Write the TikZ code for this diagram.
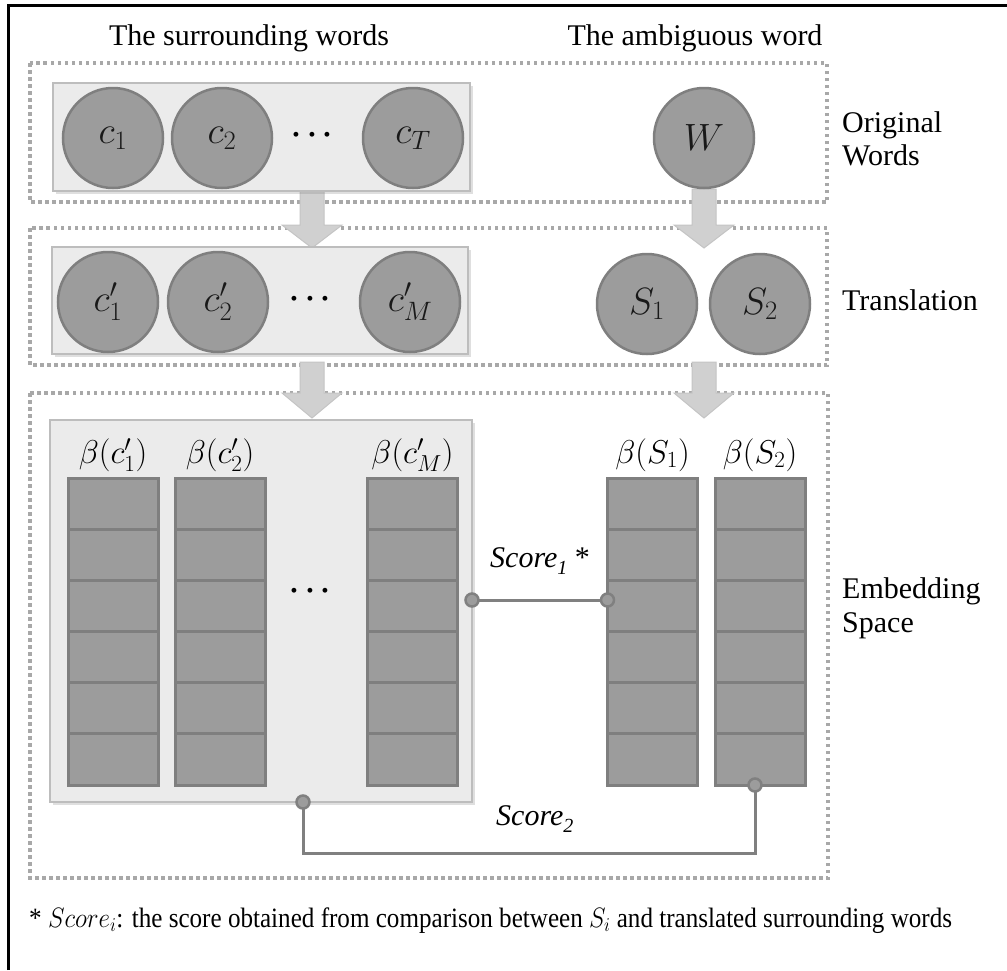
\RequirePackage{fix-cm}
\documentclass[tikz,border=0pt]{standalone}
\usepackage{fontspec}
\usepackage{graphicx}
\setmainfont{Liberation Serif}
\usetikzlibrary{shadows,calc}
\definecolor{circfill}{HTML}{9C9C9C}
\definecolor{circdraw}{HTML}{7F7F7F}
\definecolor{lightfill}{HTML}{EBEBEB}
\definecolor{lightdraw}{HTML}{BDBDBD}
\definecolor{dotcol}{HTML}{A8A8A8}
\definecolor{arrowfill}{HTML}{D0D0D0}
\definecolor{arrowdraw}{HTML}{C4C4C4}
\definecolor{linecol}{HTML}{808080}
\newcommand{\blockarr}[4]{\draw[barrow] (#1-12,#2) -- (#1+12,#2) -- (#1+12,#3) -- (#1+30,#3) -- (#1,#4) -- (#1-30,#3) -- (#1-12,#3) -- cycle;}
\tikzset{
  word/.style={circle, fill=circfill, draw=circdraw, line width=2.5pt, minimum size=100pt, inner sep=0pt, text=black!90, font=\fontsize{38}{42}\selectfont},
  lightbox/.style={rectangle, fill=lightfill, draw=lightdraw, line width=1.5pt, inner sep=0pt, outer sep=0pt,
    drop shadow={opacity=0.25, shadow xshift=3pt, shadow yshift=-3pt}},
  dotbox/.style={draw=dotcol, line width=3.5pt, dash pattern=on 3.5pt off 3.5pt},
  barrow/.style={fill=arrowfill, draw=arrowdraw, line width=1pt},
  colbox/.style={rectangle, fill=circfill, draw=circdraw, line width=3pt, minimum width=90pt, minimum height=307pt, inner sep=0pt, outer sep=0pt},
  colline/.style={draw=circdraw, line width=3pt},
  lab/.style={font=\fontsize{30}{34}\selectfont, inner sep=0pt},
  mlab/.style={font=\fontsize{33}{38}\selectfont, inner sep=0pt, anchor=base},
  dotlab/.style={font=\fontsize{31}{36}\selectfont\boldmath, inner sep=0pt, anchor=center},
  scoreline/.style={draw=linecol, line width=3pt},
  endc/.style={circle, fill=circfill, draw=linecol, line width=2.5pt, minimum size=13pt, inner sep=0pt},
}
\begin{document}
\begin{tikzpicture}[x=1pt, y=-1pt]
\useasboundingbox (0,0) rectangle (1007,970);
% outer frame
\draw[line width=3pt, black] (8,970) -- (8,5) -- (1007,5);
% column headings
\node[lab, anchor=base] (hsur) at (249,45) {The surrounding words};
\node[lab, anchor=base] (hamb) at (695,45) {The ambiguous word};
% dotted stage boxes
\draw[dotbox] (30,63) rectangle (827,202);
\draw[dotbox] (30,228) rectangle (827,365);
\draw[dotbox] (30,393) rectangle (828,878);
% stage labels
\node[lab, anchor=base west] (orig) at (842,132) {Original};
\node[lab, anchor=base west] (origw) at (842,165) {Words};
\node[lab, anchor=base west] (trans) at (842,310) {Translation};
\node[lab, anchor=base west] (emb) at (842,598) {Embedding};
\node[lab, anchor=base west] (embs) at (842,632) {Space};
% block arrows
\blockarr{312}{190}{225}{248}
\blockarr{704}{189}{225}{248}
\blockarr{312}{362}{393}{418}
\blockarr{704}{362}{393}{418}
% light boxes
\node[lightbox, minimum width=417pt, minimum height=108pt] (lb1) at (261.5,137) {};
\node[lightbox, minimum width=416pt, minimum height=107pt] (lb2) at (260,300.5) {};
\node[lightbox, minimum width=422pt, minimum height=382pt] (lb3) at (261,611) {};
% original words
\node[word] (c1) at (113,138) {$c_1$};
\node[word] (c2) at (222,138) {$c_2$};
\node[dotlab] (cdots) at (312,135) {$\cdots$};
\node[word] (cT) at (413,138) {$c_T$};
\node[word] (W) at (704,138) {$W$};
% translation
\node[word] (cp1) at (108,302) {$c'_1$};
\node[word] (cp2) at (218,302) {$c'_2$};
\node[dotlab] (cpdots) at (310,299) {$\cdots$};
\node[word] (cpM) at (410,302) {$c'_M$};
\node[word] (S1) at (647,304) {$S_1$};
\node[word] (S2) at (760,304) {$S_2$};
% embedding columns
\node[colbox] (e1) at (113,631.5) {};
\node[colbox] (e2) at (220,631.5) {};
\node[colbox] (eM) at (412.5,631.5) {};
\node[colbox] (eS1) at (652.5,631.5) {};
\node[colbox] (eS2) at (760,631.5) {};
\foreach \c in {e1,e2,eM,eS1,eS2}{
  \foreach \k in {1,...,5}{
    \draw[colline] ($(\c.north west)!\k/6!(\c.south west)$) -- ($(\c.north east)!\k/6!(\c.south east)$);
  }
}
\coordinate (y463) at (0,463);
\node[mlab] (b1) at (e1.center |- y463) {$\beta(c'_1)$};
\node[mlab] (b2) at (e2.center |- y463) {$\beta(c'_2)$};
\node[mlab] (bM) at (eM.center |- y463) {$\beta(c'_M)$};
\node[mlab] (bS1) at (eS1.center |- y463) {$\beta(S_1)$};
\node[mlab] (bS2) at (eS2.center |- y463) {$\beta(S_2)$};
\node[dotlab] (edots) at (310,591) {$\cdots$};
% score 1
\coordinate (y600) at (0,600);
\coordinate (s1a) at (lb3.east |- y600);
\coordinate (s1b) at (eS1.west |- y600);
\draw[scoreline] (s1a) -- (s1b);
\node[endc] (s1ac) at (s1a) {};
\node[endc] (s1bc) at (s1b) {};
\node[lab, anchor=base west] (sc1) at (490,567) {\textit{Score}\raisebox{-7pt}{\fontsize{20}{22}\selectfont\textit{1}} *};
% score 2
\coordinate (x303) at (303,0);
\coordinate (x755) at (755,0);
\coordinate (y853) at (0,853);
\coordinate (s2a) at (x303 |- lb3.south);
\coordinate (s2b) at (x755 |- eS2.south);
\draw[scoreline] (s2a) -- (s2a |- y853) -| (s2b);
\node[endc] (s2ac) at (s2a) {};
\node[endc] (s2bc) at (s2b) {};
\node[lab, anchor=base west] (sc2) at (496,825) {\textit{Score}\raisebox{-7pt}{\fontsize{20}{22}\selectfont\textit{2}}};
% footnote
\node[anchor=base west, inner sep=0pt, font=\fontsize{28}{32}\selectfont] (foot) at (29,927) {\resizebox{923pt}{\height}{* $Score_i$: the score obtained from comparison between $S_i$ and translated surrounding words}};
\end{tikzpicture}
\end{document}
